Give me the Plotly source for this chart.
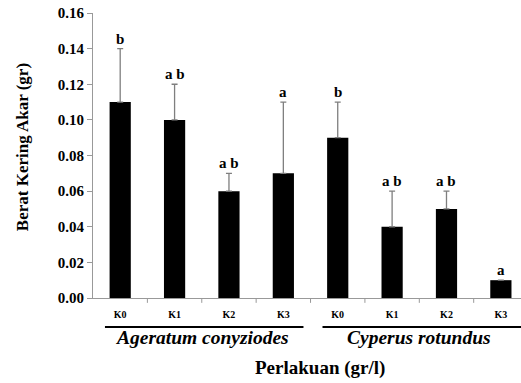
import plotly.graph_objects as go

categories = ["K0", "K1", "K2", "K3", "K0 ", "K1 ", "K2 ", "K3 "]
tick_labels = ["K0", "K1", "K2", "K3", "K0", "K1", "K2", "K3"]
values = [0.11, 0.10, 0.06, 0.07, 0.09, 0.04, 0.05, 0.01]
errors = [0.03, 0.02, 0.01, 0.04, 0.02, 0.02, 0.01, 0.0]
letters = ["b", "a b", "a b", "a", "b", "a b", "a b", "a"]
groups = ["Ageratum conyziodes", "Cyperus rotundus"]
y_ticks = [0, 0.02, 0.04, 0.06, 0.08, 0.10, 0.12, 0.14, 0.16]

FONT = "Liberation Serif"
xpos = list(range(len(categories)))

fig = go.Figure()
fig.add_trace(go.Bar(
    x=xpos, y=values, width=0.39,
    marker=dict(color="black", line=dict(width=0)),
    error_y=dict(type="data", array=errors, symmetric=False,
                 arrayminus=[0] * len(errors), color="#7f7f7f",
                 thickness=1.3, width=3),
    showlegend=False, hoverinfo="skip",
))

annotations = []
for i, (v, e, t) in enumerate(zip(values, errors, letters)):
    annotations.append(dict(x=i, y=v + e, xref="x", yref="y", text="<b>" + t + "</b>",
                            showarrow=False, yanchor="bottom", yshift=0,
                            font=dict(family=FONT, size=15, color="black")))

shapes = []
for g, name in enumerate(groups):
    x0 = g * 4 - 0.5 + 0.22
    x1 = g * 4 + 3.5 - 0.13
    shapes.append(dict(type="line", xref="x", yref="paper", x0=x0, x1=x1,
                       y0=-0.102, y1=-0.102, line=dict(color="black", width=2)))
    annotations.append(dict(x=g * 4 + 1.5, y=-0.137, xref="x", yref="paper",
                            text="<b><i>" + name + "</i></b>", showarrow=False,
                            yanchor="middle",
                            font=dict(family=FONT, size=19.5, color="black")))

annotations.append(dict(x=0.53, y=-0.245, xref="paper", yref="paper",
                        text="<b>Perlakuan (gr/l)</b>", showarrow=False,
                        yanchor="middle",
                        font=dict(family=FONT, size=19, color="black")))
annotations.append(dict(x=-0.163, y=0.53, xref="paper", yref="paper",
                        text="<b>Berat Kering Akar (gr)</b>", showarrow=False,
                        textangle=-90, xanchor="center", yanchor="middle",
                        font=dict(family=FONT, size=17, color="black")))

# boundary tick marks on x axis
for b in range(1, 8):
    shapes.append(dict(type="line", xref="x", yref="paper", x0=b - 0.5,
                       x1=b - 0.5, y0=0, y1=-0.017,
                       line=dict(color="#999999", width=1)))

fig.update_layout(
    width=521, height=383,
    margin=dict(l=93, r=0, t=13, b=85),
    plot_bgcolor="white", paper_bgcolor="white",
    annotations=annotations, shapes=shapes,
    xaxis=dict(range=[-0.5, 7.37], tickmode="array", tickvals=xpos,
               ticktext=["<b>" + t + "</b>" for t in tick_labels],
               showline=True, linecolor="#999999",
               linewidth=1, ticks="", showgrid=False, zeroline=False,
               ticklabelstandoff=7, automargin=False,
               tickfont=dict(family=FONT, size=10, color="black")),
    yaxis=dict(range=[0, 0.16], tickmode="array",
               tickvals=y_ticks,
               ticktext=["<b>%.2f</b>" % v for v in y_ticks],
               showline=True, linecolor="#999999",
               linewidth=1, ticks="outside", ticklen=5, tickcolor="#999999",
               showgrid=False, zeroline=False, automargin=False,
               tickfont=dict(family=FONT, size=15, color="black")),
)

fig.write_html("out.html", config={"displayModeBar": False},
               post_script="document.body.style.margin='0px';")
